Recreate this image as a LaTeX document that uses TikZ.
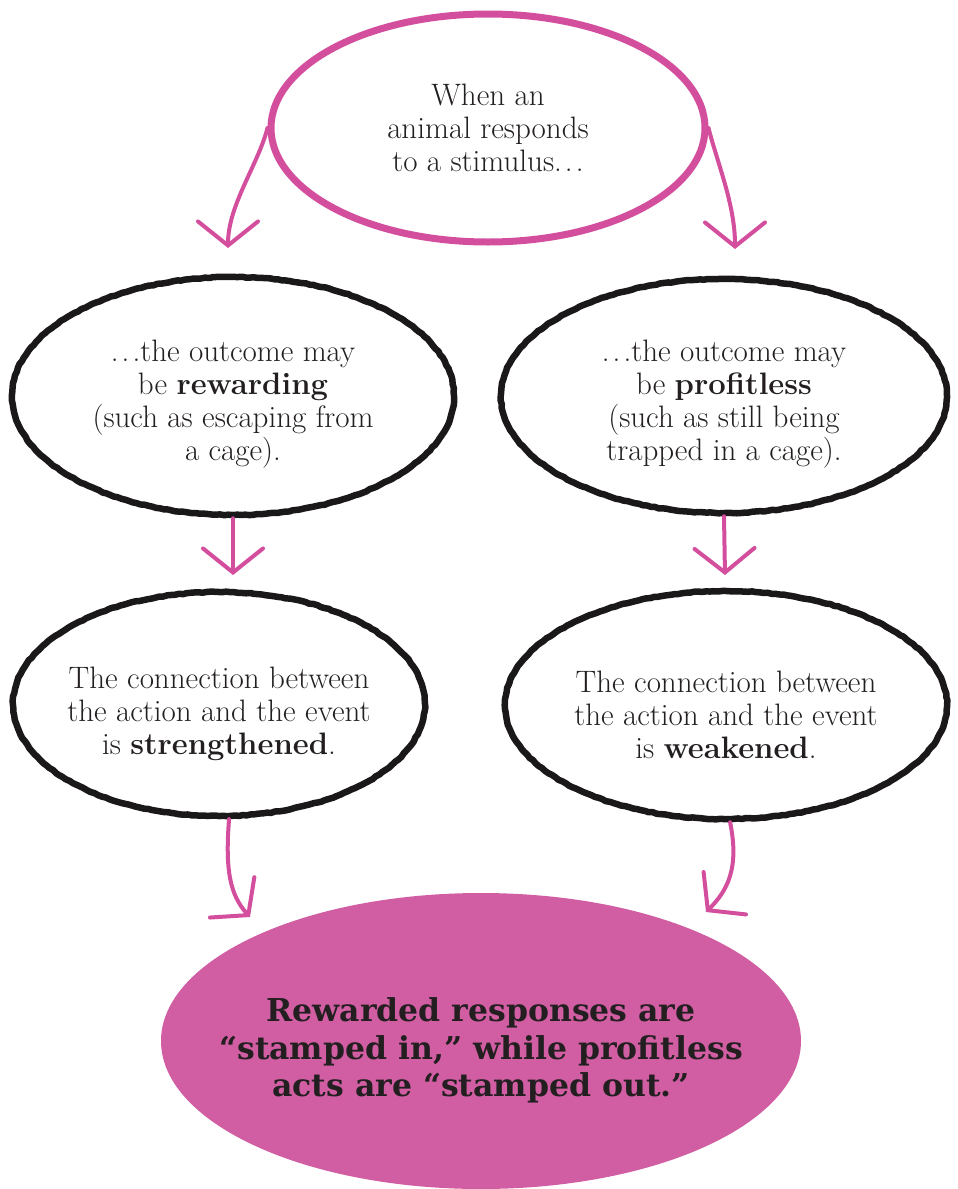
\documentclass[tikz,border=0pt]{standalone}
\usepackage{fontspec}
\newfontfamily\slab{DejaVu Serif}
\usetikzlibrary{shapes.geometric,arrows.meta,decorations.pathmorphing}
\definecolor{pinkline}{RGB}{212,78,158}
\definecolor{pinkfill}{RGB}{209,94,163}
\definecolor{inkblack}{RGB}{26,24,24}
\definecolor{textcol}{RGB}{35,31,32}
\newcommand{\sdots}{.\kern0.1em.\kern0.1em.}
\newcommand{\lowerby}[1]{\rule{0pt}{#1}}
\begin{document}
\begin{tikzpicture}[x=1pt,y=-1pt,
  txt/.style={font=\fontsize{31}{33}\selectfont, align=center, text=textcol},
  pinkoval/.style={ellipse, draw=pinkline, line width=7pt, inner sep=-60pt},
  blackoval/.style={ellipse, draw=inkblack, line width=6.5pt, inner sep=-60pt, line join=round,
    decorate, decoration={random steps, segment length=4pt, amplitude=0.45pt}},
  fulloval/.style={ellipse, fill=pinkfill, inner sep=-100pt},
  parr/.style={draw=pinkline, line width=4pt, line cap=round,
    -{Straight Barb[length=24pt, width=60pt, line cap=round]}}]
\useasboundingbox (0,0) rectangle (958,1189);

\node[pinkoval, txt, minimum width=434pt, minimum height=228pt] (top) at (488,128)
  {When an\\animal responds\\to a stimulus\sdots};

\node[blackoval, txt, minimum width=442pt, minimum height=238pt] (midL) at (233,396)
  {\lowerby{37pt}\sdots the outcome may\\be \textbf{rewarding}\\(such as escaping from\\a cage).};
\node[blackoval, txt, minimum width=446pt, minimum height=234pt] (midR) at (724,396)
  {\lowerby{37pt}\sdots the outcome may\\be \textbf{profitless}\\(such as still being\\trapped in a cage).};

\node[blackoval, txt, minimum width=412pt, minimum height=224pt] (lowL) at (219,704)
  {\lowerby{41pt}The connection between\\the action and the event\\is \textbf{strengthened}.};
\node[blackoval, txt, minimum width=442pt, minimum height=228pt] (lowR) at (726,705)
  {\lowerby{41pt}The connection between\\the action and the event\\is \textbf{weakened}.};

\node[fulloval, minimum width=640pt, minimum height=296pt,
  font=\slab\bfseries\fontsize{31.5}{37.5}\selectfont, align=center, text=textcol] (bot) at (481,1041)
  {\lowerby{43pt}Rewarded responses are\\“stamped in,” while profitless\\acts are “stamped out.”};

\coordinate (tipA) at (228,248);
\coordinate (tipB) at (735,249);
\coordinate (tipC) at (233,575);
\coordinate (tipD) at (725,575);
\coordinate (tipE) at (250,917);
\coordinate (tipF) at (706,912);

\draw[parr] (top.west) .. controls (258,165) and (228,205) .. (tipA);
\draw[parr] (top.east) .. controls (718,165) and (735,205) .. (tipB);
\draw[parr] (midL.south) -- (tipC);
\draw[parr] (midR.south) -- (tipD);
\draw[parr] (lowL.275) .. controls (225,870) and (230,895) .. (tipE);
\draw[parr] (lowR.272) .. controls (740,870) and (726,892) .. (tipF);
\end{tikzpicture}
\end{document}
